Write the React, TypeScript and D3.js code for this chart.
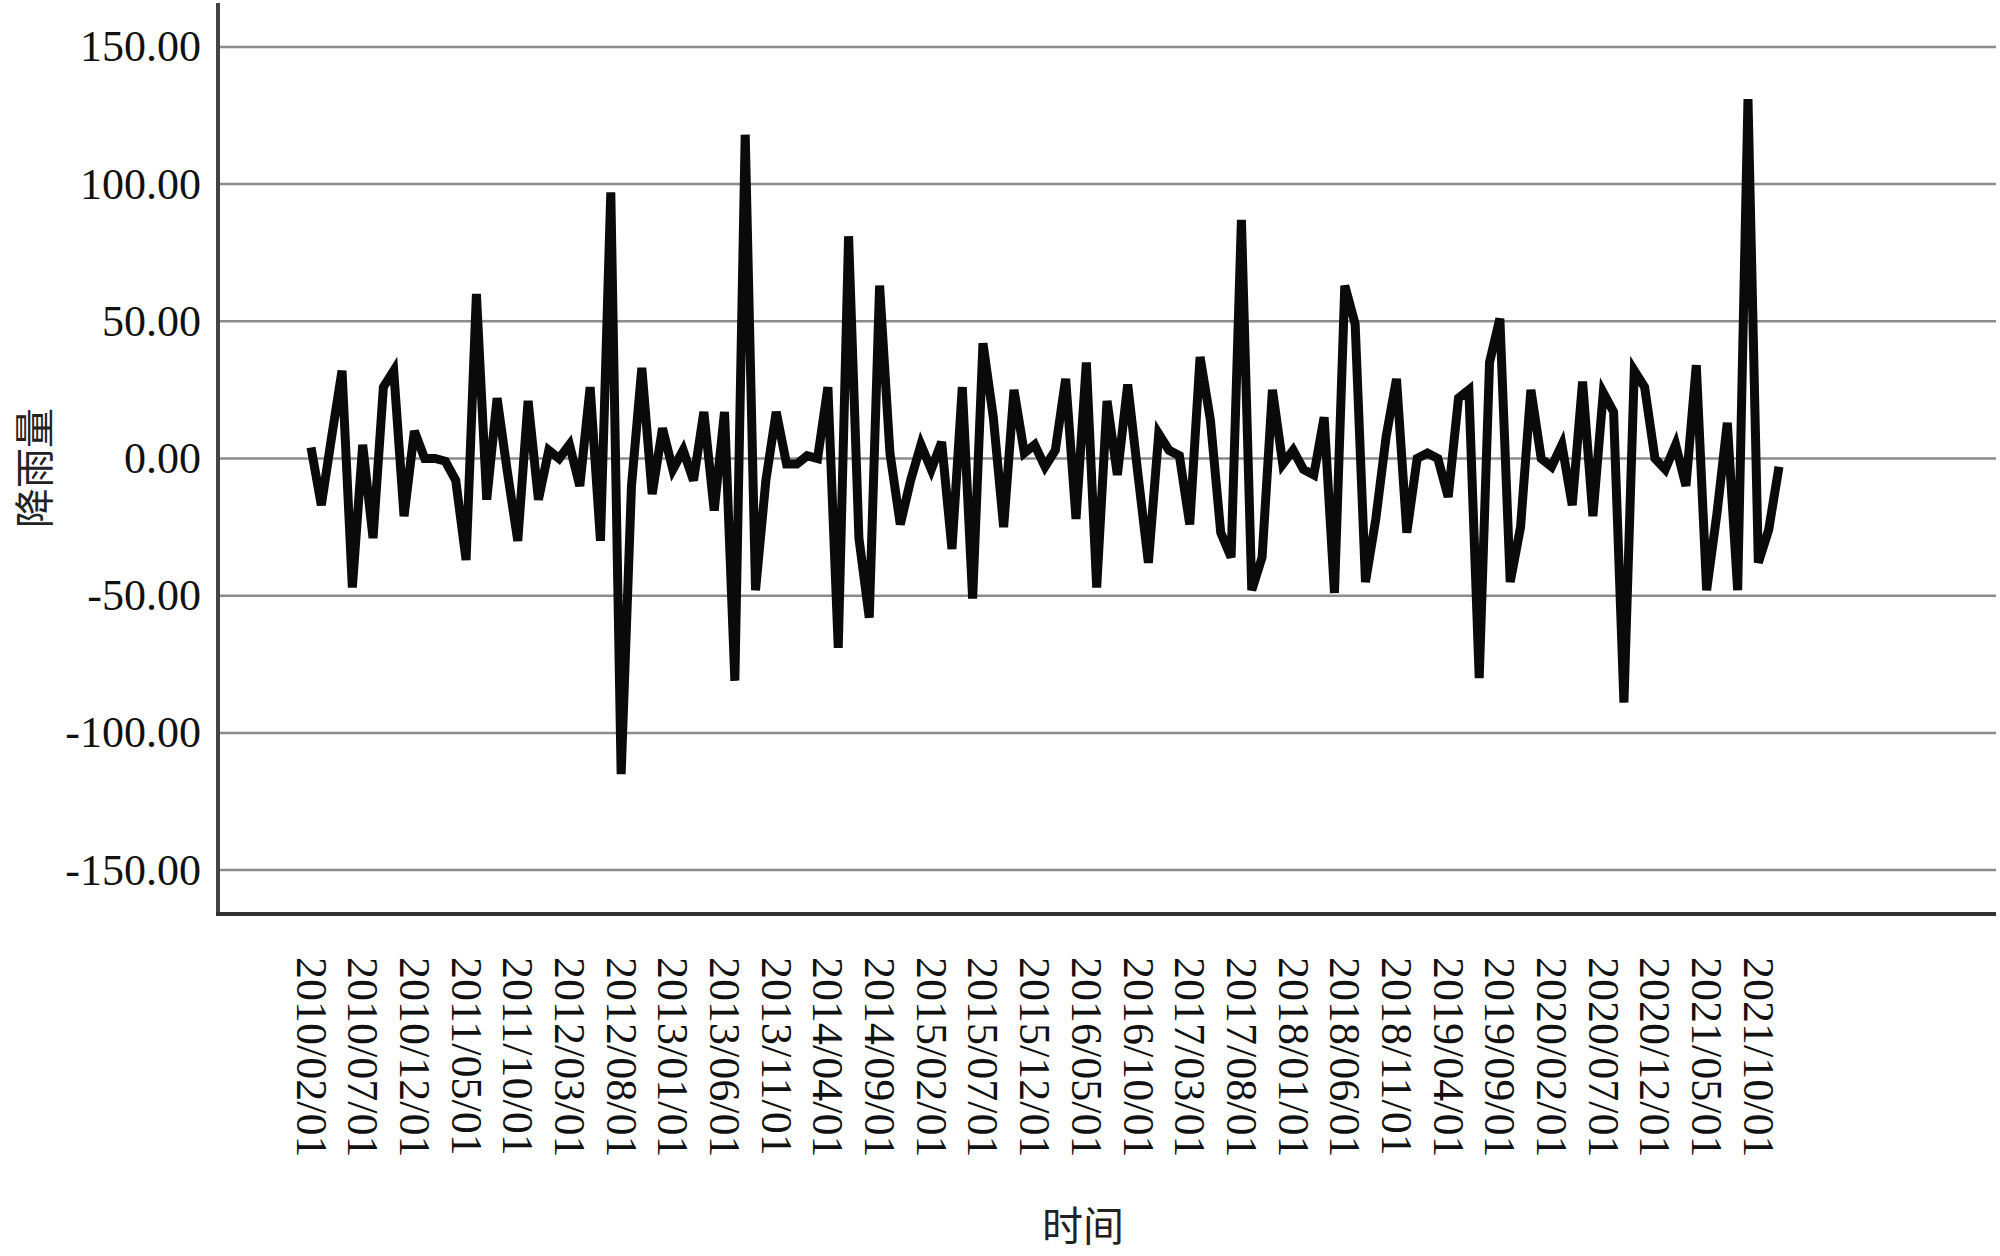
import React, { useEffect, useRef } from 'react';
import * as d3 from 'd3';

// monthly rainfall anomaly, 2010/02 .. 2021/12
const values: number[] = [
  4, -17, 8, 32, -47, 5, -29, 26, 32, -21,
  10, 0, 0, -1, -8, -37, 60, -15, 22, -5,
  -30, 21, -15, 3, 0, 5, -10, 26, -30, 97,
  -115, -10, 33, -13, 11, -4, 3, -8, 17, -19,
  17, -81, 118, -48, -8, 17, -2, -2, 1, 0,
  26, -69, 81, -29, -58, 63, 2, -24, -8, 5,
  -4, 6, -33, 26, -51, 42, 15, -25, 25, 2,
  5, -3, 3, 29, -22, 35, -47, 21, -6, 27,
  -6, -38, 9, 3, 1, -24, 37, 14, -27, -36,
  87, -48, -36, 25, -2, 3, -4, -6, 15, -49,
  63, 49, -45, -22, 8, 29, -27, 0, 2, 0,
  -14, 22, 25, -80, 35, 51, -45, -25, 25, 0,
  -3, 5, -17, 28, -21, 24, 17, -89, 32, 26,
  0, -4, 5, -10, 34, -48, -20, 13, -48, 131,
  -38, -26, -3,
];

const months: Date[] = d3.timeMonth.range(new Date(2010, 1, 1), new Date(2022, 0, 1));
const fmtDate = d3.timeFormat('%Y/%m/%d');
const categories: string[] = months.map(fmtDate);

const tickLabels: string[] = [
  '2010/02/01', '2010/07/01', '2010/12/01', '2011/05/01', '2011/10/01',
  '2012/03/01', '2012/08/01', '2013/01/01', '2013/06/01', '2013/11/01',
  '2014/04/01', '2014/09/01', '2015/02/01', '2015/07/01', '2015/12/01',
  '2016/05/01', '2016/10/01', '2017/03/01', '2017/08/01', '2018/01/01',
  '2018/06/01', '2018/11/01', '2019/04/01', '2019/09/01', '2020/02/01',
  '2020/07/01', '2020/12/01', '2021/05/01', '2021/10/01',
];

const yTicks: number[] = [-150, -100, -50, 0, 50, 100, 150];

export default function App() {
  const svgRef = useRef<SVGSVGElement>(null);

  useEffect(() => {
    const w = 2000;
    const h = 1256;
    const left = 218;
    const right = 1996;
    const bottom = 914;
    const top = 3;

    const svg = d3.select(svgRef.current).attr('width', w).attr('height', h);
    svg.selectAll('*').remove();

    const x = d3.scalePoint<string>().domain(categories).range([311, 1779]);
    const y = d3.scaleLinear().domain([-166, 166]).range([bottom, top]);

    const serif = "'Liberation Serif', 'Times New Roman', serif";
    const cjk = "'Noto Sans CJK SC', sans-serif";
    const fmtY = (d: number) => d3.format('.2f')(d).replace('−', '-');

    // gridlines
    svg.append('g')
      .selectAll('line')
      .data(yTicks)
      .join('line')
      .attr('x1', left)
      .attr('x2', right)
      .attr('y1', d => y(d))
      .attr('y2', d => y(d))
      .attr('stroke', '#8c8c8c')
      .attr('stroke-width', 2.5);

    // y tick labels
    svg.append('g')
      .selectAll('text')
      .data(yTicks)
      .join('text')
      .attr('x', 201)
      .attr('y', d => y(d))
      .attr('text-anchor', 'end')
      .attr('dominant-baseline', 'central')
      .style('font-family', serif)
      .style('font-size', '44px')
      .attr('fill', '#111')
      .text(fmtY);

    // axes
    svg.append('line')
      .attr('x1', left).attr('x2', left)
      .attr('y1', top).attr('y2', bottom)
      .attr('stroke', '#444').attr('stroke-width', 4);
    svg.append('line')
      .attr('x1', left - 2).attr('x2', right)
      .attr('y1', bottom).attr('y2', bottom)
      .attr('stroke', '#333').attr('stroke-width', 4);

    // line series
    const line = d3.line<number>()
      .x((_, i) => x(categories[i]) as number)
      .y(d => y(d));
    svg.append('path')
      .datum(values)
      .attr('d', line)
      .attr('fill', 'none')
      .attr('stroke', '#0a0a0a')
      .attr('stroke-width', 9);

    // x tick labels
    svg.append('g')
      .selectAll('text')
      .data(tickLabels)
      .join('text')
      .attr('transform', d => `translate(${x(d)},957) rotate(90)`)
      .attr('text-anchor', 'start')
      .attr('dominant-baseline', 'central')
      .style('font-family', serif)
      .style('font-size', '44px')
      .attr('fill', '#111')
      .text(d => d);

    // titles
    svg.append('text')
      .attr('x', 1083)
      .attr('y', 1223)
      .attr('text-anchor', 'middle')
      .attr('dominant-baseline', 'central')
      .style('font-family', cjk)
      .style('font-size', '41px')
      .attr('fill', '#222')
      .text('时间');
    svg.append('text')
      .attr('transform', 'translate(32,468) rotate(-90)')
      .attr('text-anchor', 'middle')
      .attr('dominant-baseline', 'central')
      .style('font-family', cjk)
      .style('font-size', '40px')
      .attr('fill', '#222')
      .text('降雨量');
  }, []);

  return <svg ref={svgRef} style={{ position: 'absolute', left: 0, top: 0, background: '#fff' }}></svg>;
}
